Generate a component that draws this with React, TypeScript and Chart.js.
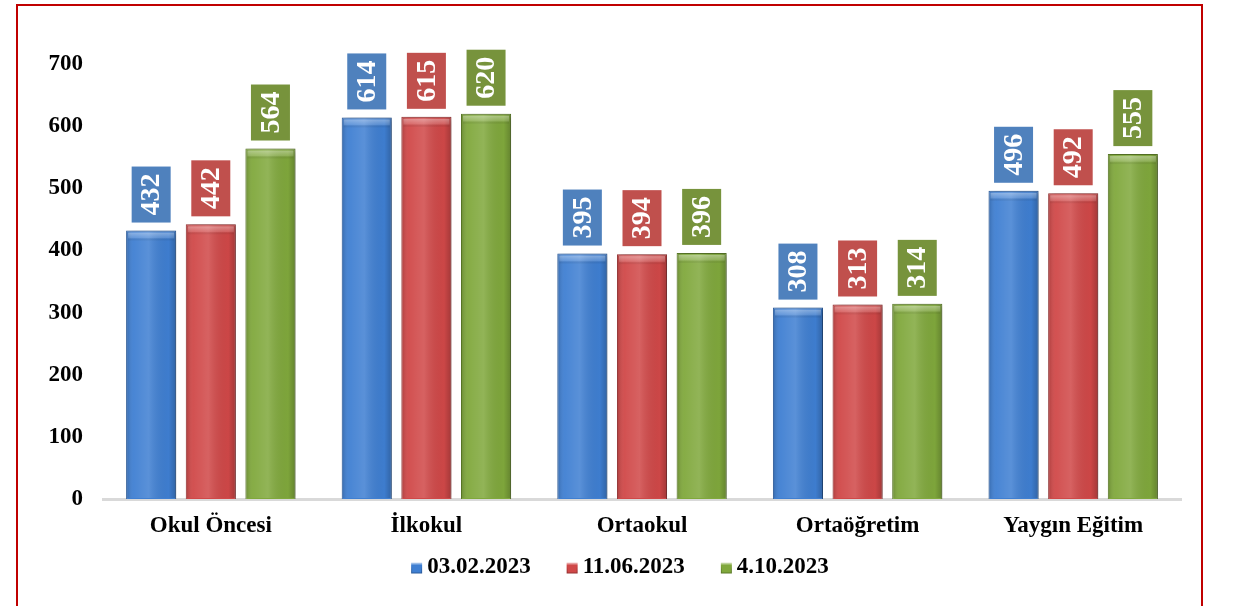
import React, { useEffect, useRef } from "react";
import { Chart, registerables } from "chart.js";

Chart.register(...registerables);

const categories = ["Okul Öncesi", "İlkokul", "Ortaokul", "Ortaöğretim", "Yaygın Eğitim"];
const seriesLabels = ["03.02.2023", "11.06.2023", "4.10.2023"];
const values0302 = [432, 614, 395, 308, 496];
const values1106 = [442, 615, 394, 313, 492];
const values0410 = [564, 620, 396, 314, 555];
const yMin = 0;
const yMax = 700;
const yStep = 100;

const barFills = ["#3f7fd2", "#d04848", "#80a83c"];
const barBorders = ["#2c5c9c", "#963232", "#5b7a28"];
const boxFills = ["#4f81bd", "#c0504d", "#77933c"];

const FONT = '"Liberation Serif", "Times New Roman", serif';

const barStylePlugin = {
  id: "barStyle",
  beforeDatasetDraw(chart: any) {
    const ctx = chart.ctx;
    ctx.save();
    ctx.shadowColor = "rgba(0,0,0,0.35)";
    ctx.shadowBlur = 6;
    ctx.shadowOffsetX = 3;
    ctx.shadowOffsetY = 1;
  },
  afterDatasetDraw(chart: any, args: any) {
    const ctx = chart.ctx;
    ctx.restore();
    const meta = chart.getDatasetMeta(args.index);
    meta.data.forEach((el: any) => {
      const { x, y, base, width } = el.getProps(["x", "y", "base", "width"], true);
      const left = x - width / 2;
      const h = base - y;
      ctx.save();
      const g = ctx.createLinearGradient(left, 0, left + width, 0);
      g.addColorStop(0, "rgba(0,0,0,0.18)");
      g.addColorStop(0.15, "rgba(255,255,255,0.05)");
      g.addColorStop(0.45, "rgba(255,255,255,0.14)");
      g.addColorStop(0.85, "rgba(0,0,0,0.02)");
      g.addColorStop(1, "rgba(0,0,0,0.22)");
      ctx.fillStyle = g;
      ctx.fillRect(left + 1, y + 1, width - 2, h - 2);
      const tg = ctx.createLinearGradient(0, y, 0, y + 9);
      tg.addColorStop(0, "rgba(255,255,255,0.45)");
      tg.addColorStop(0.8, "rgba(255,255,255,0.15)");
      tg.addColorStop(1, "rgba(0,0,0,0.06)");
      ctx.fillStyle = tg;
      ctx.fillRect(left + 2, y + 2, width - 4, 8);
      ctx.restore();
    });
  },
};

const valueBoxPlugin = {
  id: "valueBoxes",
  afterDatasetsDraw(chart: any) {
    const ctx = chart.ctx;
    chart.data.datasets.forEach((ds: any, i: number) => {
      const meta = chart.getDatasetMeta(i);
      meta.data.forEach((el: any, j: number) => {
        const { x, y } = el.getProps(["x", "y"], true);
        const w = 39;
        const h = 56;
        const gap = 8;
        ctx.save();
        ctx.fillStyle = boxFills[i];
        ctx.fillRect(x - w / 2, y - gap - h, w, h);
        ctx.translate(x, y - gap - h / 2);
        ctx.rotate(-Math.PI / 2);
        ctx.fillStyle = "#ffffff";
        ctx.font = `bold 28px ${FONT}`;
        ctx.textAlign = "center";
        ctx.textBaseline = "middle";
        ctx.fillText(String(ds.data[j]), 0, 1);
        ctx.restore();
      });
    });
  },
};

const frameLegendPlugin = {
  id: "frameLegend",
  afterDraw(chart: any) {
    const ctx = chart.ctx;
    ctx.save();
    ctx.strokeStyle = "#c00000";
    ctx.lineWidth = 2;
    ctx.strokeRect(17, 5, 1185, 640);
    // legend
    ctx.font = `bold 23px ${FONT}`;
    ctx.textBaseline = "middle";
    ctx.textAlign = "left";
    const marker = 11;
    const gapText = 5;
    const gapItem = 36;
    const widths = chart.data.datasets.map((d: any) => ctx.measureText(d.label).width);
    const total =
      widths.reduce((a: number, b: number) => a + b, 0) +
      widths.length * (marker + gapText) +
      (widths.length - 1) * gapItem;
    let cx = 620 - total / 2;
    const cy = 567;
    chart.data.datasets.forEach((d: any, i: number) => {
      const g = ctx.createLinearGradient(cx, cy - marker / 2, cx, cy + marker / 2);
      g.addColorStop(0, "#ffffff");
      g.addColorStop(0.35, barFills[i]);
      g.addColorStop(1, barBorders[i]);
      ctx.fillStyle = g;
      ctx.fillRect(cx, cy - marker / 2 + 1, marker, marker);
      ctx.fillStyle = barFills[i];
      ctx.fillRect(cx + 1, cy - marker / 2 + 4, marker - 2, marker - 4);
      cx += marker + gapText;
      ctx.fillStyle = "#000";
      ctx.fillText(d.label, cx, cy);
      cx += widths[i] + gapItem;
    });
    ctx.restore();
  },
};

export default function App() {
  const ref = useRef<HTMLCanvasElement | null>(null);

  useEffect(() => {
    if (!ref.current) return;
    const seriesValues = [values0302, values1106, values0410];
    const chart = new Chart(ref.current, {
      type: "bar",
      data: {
        labels: categories,
        datasets: seriesLabels.map((label, i) => ({
          label,
          data: seriesValues[i],
          backgroundColor: barFills[i],
          borderColor: barBorders[i],
          borderWidth: 1,
          barPercentage: 0.84,
          categoryPercentage: 0.83,
        })),
      },
      options: {
        animation: false,
        responsive: false,
        devicePixelRatio: 1,
        layout: { padding: { top: 64, right: 59, left: 0, bottom: 65 } },
        plugins: {
          legend: { display: false },
          tooltip: { enabled: false },
        },
        scales: {
          x: {
            grid: { display: false, drawTicks: false },
            border: { display: true, color: "#d9d9d9", width: 3 },
            ticks: {
              color: "#000",
              padding: 13,
              font: { family: FONT, size: 23, weight: "bold" },
            },
            afterFit(s: any) {
              s.height = 42;
            },
          },
          y: {
            min: yMin,
            max: yMax,
            grid: { display: false, drawTicks: false },
            border: { display: false },
            ticks: {
              stepSize: yStep,
              color: "#000",
              padding: 20,
              font: { family: FONT, size: 23, weight: "bold" },
            },
            afterFit(s: any) {
              s.width = 103;
            },
          },
        },
      },
      plugins: [barStylePlugin, valueBoxPlugin, frameLegendPlugin],
    } as any);
    return () => chart.destroy();
  }, []);

  return (
    <div style={{ position: "absolute", left: 0, top: 0, width: 1240, height: 606, background: "#fff" }}>
      <canvas ref={ref} width={1240} height={606} style={{ width: 1240, height: 606, display: "block" }} />
    </div>
  );
}
